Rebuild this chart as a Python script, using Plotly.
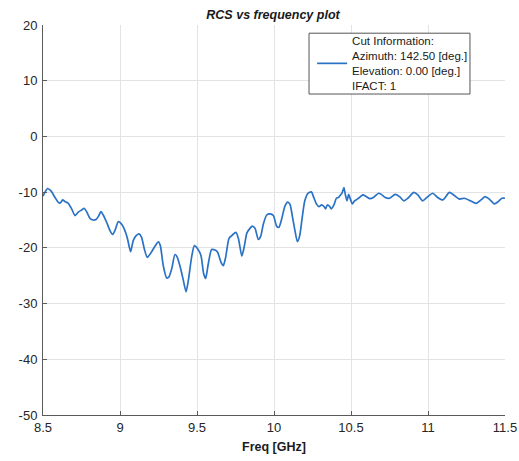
import plotly.graph_objects as go

freq = [8.500, 8.515, 8.530, 8.545, 8.556, 8.578, 8.600, 8.612, 8.628, 8.643, 8.664, 8.686, 8.708, 8.729,
        8.751, 8.768, 8.783, 8.805, 8.826, 8.844, 8.861, 8.876, 8.891, 8.913, 8.935, 8.952, 8.967, 8.989,
        9.006, 9.026, 9.047, 9.060, 9.069, 9.086, 9.102, 9.123, 9.140, 9.158, 9.177, 9.201, 9.227, 9.249,
        9.262, 9.281, 9.303, 9.318, 9.336, 9.357, 9.372, 9.394, 9.411, 9.429, 9.444, 9.466, 9.483, 9.505,
        9.526, 9.543, 9.556, 9.573, 9.595, 9.617, 9.634, 9.656, 9.671, 9.686, 9.708, 9.730, 9.752, 9.769,
        9.791, 9.808, 9.824, 9.844, 9.859, 9.877, 9.898, 9.914, 9.931, 9.953, 9.974, 9.996, 10.017, 10.032,
        10.050, 10.071, 10.089, 10.104, 10.119, 10.134, 10.152, 10.167, 10.182, 10.200, 10.221, 10.243,
        10.258, 10.275, 10.292, 10.308, 10.324, 10.335, 10.346, 10.361, 10.372, 10.389, 10.405, 10.419,
        10.432, 10.441, 10.454, 10.463, 10.474, 10.485, 10.496, 10.509, 10.523, 10.541, 10.556, 10.577,
        10.599, 10.620, 10.648, 10.679, 10.696, 10.722, 10.750, 10.787, 10.815, 10.843, 10.869, 10.908,
        10.934, 10.966, 10.999, 11.031, 11.063, 11.096, 11.139, 11.167, 11.204, 11.236, 11.275, 11.312,
        11.344, 11.370, 11.398, 11.430, 11.456, 11.480, 11.500]

rcs_db = [-10.7, -9.9, -9.35, -9.6, -9.95, -10.95, -11.85, -11.95, -11.4, -11.7, -12.0, -13.0, -14.2, -13.6,
          -13.2, -12.9, -13.5, -14.7, -15.0, -14.9, -14.3, -13.5, -14.1, -15.4, -16.9, -17.6, -16.9, -15.3,
          -15.6, -16.5, -18.2, -19.8, -20.7, -18.7, -17.9, -17.5, -18.1, -20.2, -21.7, -20.9, -19.7, -18.9,
          -19.6, -23.2, -25.4, -25.2, -23.75, -21.2, -21.7, -23.75, -25.8, -27.9, -25.8, -21.5, -19.6, -20.2,
          -21.4, -24.6, -25.5, -22.9, -20.3, -20.4, -20.8, -22.6, -23.2, -21.7, -18.3, -17.7, -17.2, -18.3,
          -21.5, -19.6, -17.3, -16.5, -16.1, -16.5, -18.5, -17.9, -15.7, -14.1, -13.9, -14.2, -16.1, -16.3,
          -14.8, -12.5, -11.8, -12.2, -14.3, -16.6, -18.9, -17.8, -14.8, -11.55, -10.2, -9.95,
          -10.95, -12.1, -12.6, -12.3, -12.55, -13.0, -12.3, -12.55, -13.0, -12.3, -11.1, -10.95,
          -10.5, -10.2, -9.2, -10.4, -11.55, -10.4, -11.25, -12.1, -11.55, -11.25, -10.95, -10.5,
          -10.8, -11.15, -10.9, -10.2, -10.4, -10.95, -11.1, -10.4, -10.8, -11.55, -11.1, -10.05,
          -10.5, -11.55, -10.8, -10.2, -10.95, -11.4, -10.05, -10.5, -11.25, -11.1, -11.55, -12.0,
          -11.4, -10.8, -11.25, -12.1, -11.7, -11.1, -11.1]

x_ticks = [8.5, 9, 9.5, 10, 10.5, 11, 11.5]
x_tick_text = ["8.5", "9", "9.5", "10", "10.5", "11", "11.5"]
y_ticks = [-50, -40, -30, -20, -10, 0, 10, 20]
y_tick_text = ["-50", "-40", "-30", "-20", "-10", "0", "10", "20"]

legend_text = ("Cut Information:<br>Azimuth: 142.50 [deg.]<br>"
               "Elevation: 0.00 [deg.]<br>IFACT: 1")

FONT = "Liberation Sans, Arial, Helvetica, sans-serif"
TXT = "#262626"

fig = go.Figure()
fig.add_trace(go.Scatter(
    x=freq, y=rcs_db, mode="lines", name=legend_text,
    line=dict(color="#2a72c6", width=1.7, shape="spline", smoothing=0.6),
))

# legend frame (white box with grey border, like MATLAB's legend)
fig.add_shape(type="rect", xref="paper", yref="paper",
              x0=0.5758, x1=0.9242, y0=0.823, y1=0.979,
              fillcolor="white", line=dict(color="#555555", width=1), layer="above")

fig.update_layout(
    width=519, height=461,
    margin=dict(l=43, r=14, t=25, b=46),
    paper_bgcolor="white", plot_bgcolor="white",
    font=dict(family=FONT, size=13, color=TXT),
    title=dict(text="<b><i>RCS vs frequency plot</i></b>", x=273 / 519, xanchor="center",
               y=0.968, yanchor="middle", font=dict(size=12.5, color="#1a1a1a")),
    showlegend=True,
    legend=dict(x=0.5825, y=0.995, xanchor="left", yanchor="top",
                bgcolor="rgba(0,0,0,0)", borderwidth=0,
                font=dict(size=11.5, color="#1a1a1a"), valign="middle",
                tracegroupgap=0),
    xaxis=dict(range=[8.5, 11.5], tickvals=x_ticks, ticktext=x_tick_text,
               automargin=False,
               showgrid=True, gridcolor="#e3e3e3", gridwidth=1,
               showline=True, linecolor="#5a5a5a", linewidth=1, mirror=False,
               ticks="inside", ticklen=4, tickcolor="#5a5a5a",
               tickfont=dict(size=13, color=TXT), zeroline=False,
               title=dict(text="<b>Freq [GHz]</b>", font=dict(size=12.5, color="#1a1a1a"), standoff=8)),
    yaxis=dict(range=[-50, 20], tickvals=y_ticks, ticktext=y_tick_text,
               automargin=False, ticklabelstandoff=2,
               showgrid=True, gridcolor="#e3e3e3", gridwidth=1,
               showline=True, linecolor="#5a5a5a", linewidth=1, mirror=False,
               ticks="inside", ticklen=4, tickcolor="#5a5a5a",
               tickfont=dict(size=13, color=TXT), zeroline=False),
)

fig.write_html("out.html", config={"displayModeBar": False},
               post_script="document.body.style.margin='0';")
